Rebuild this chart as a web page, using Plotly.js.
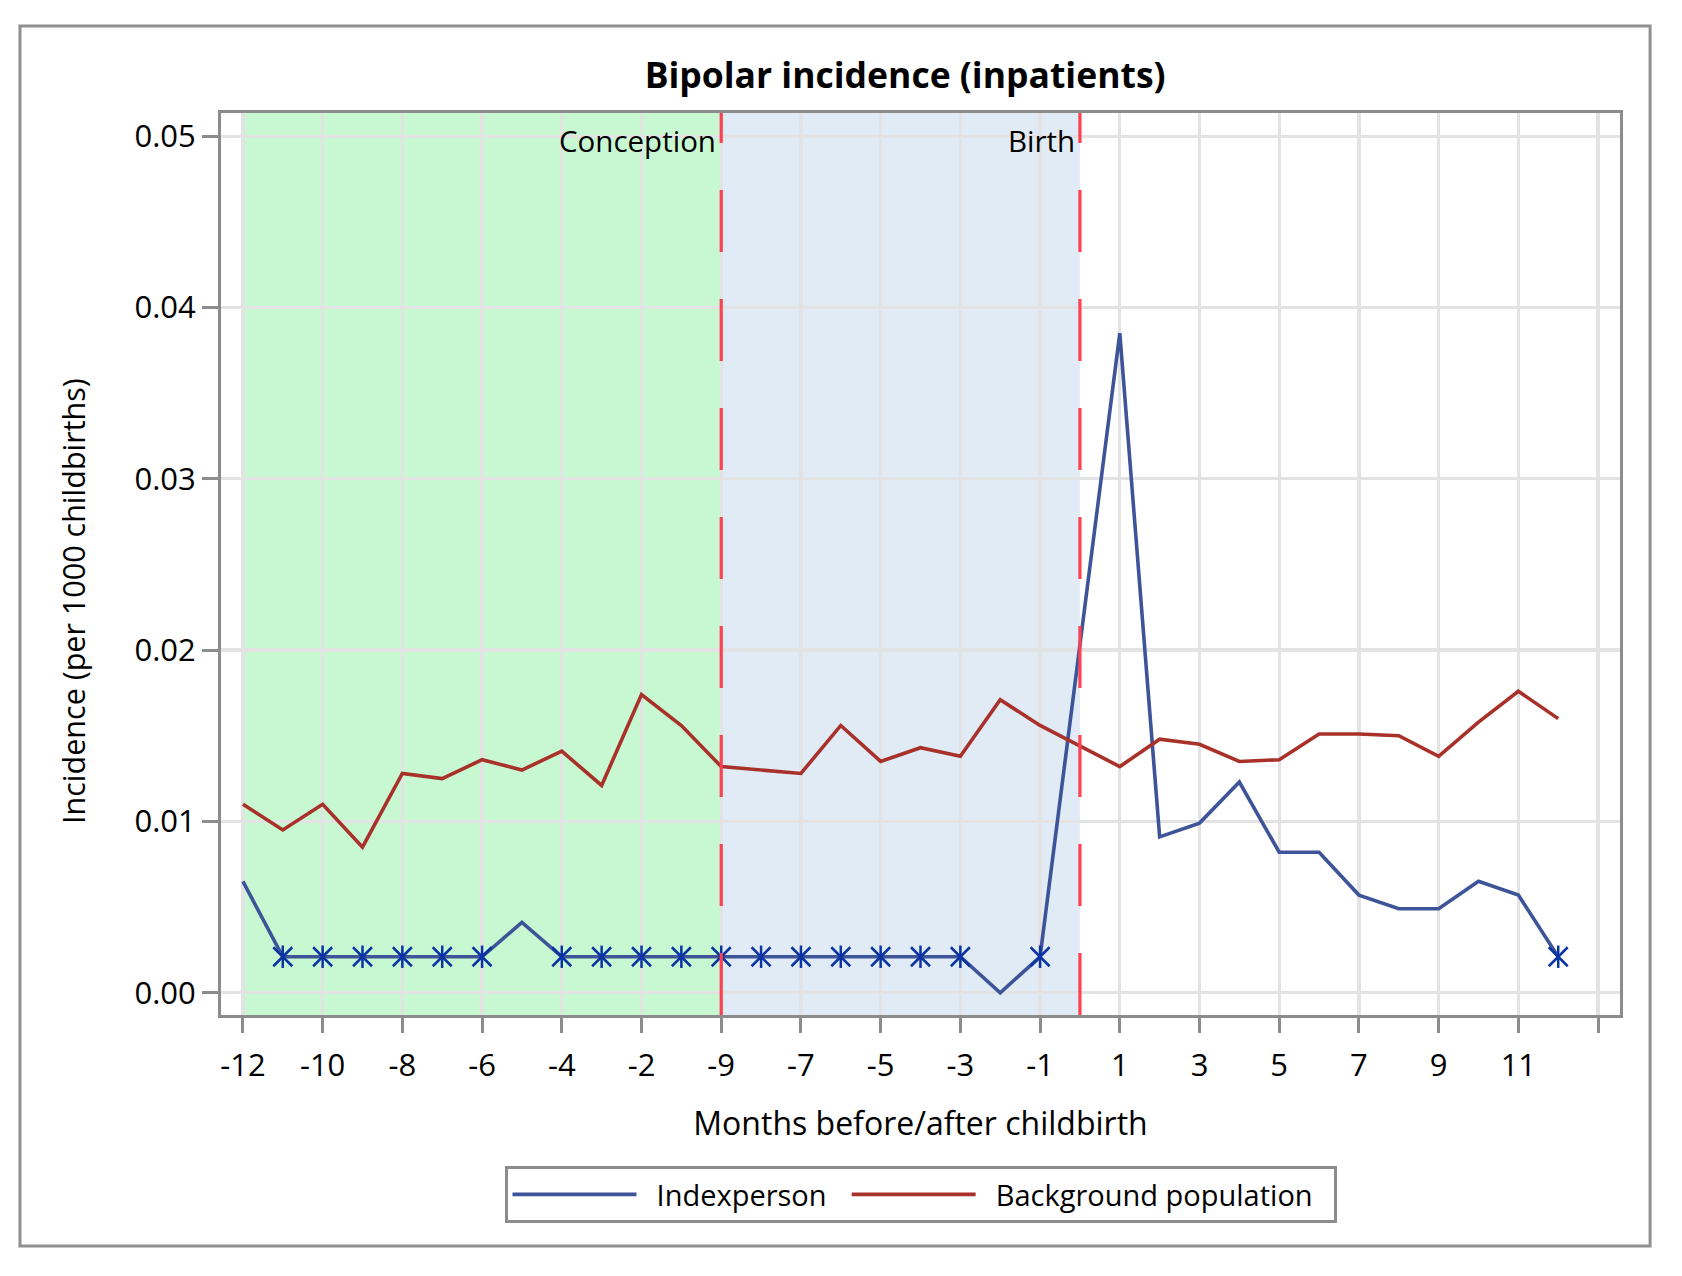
<!DOCTYPE html>
<html>
<head>
<meta charset="utf-8">
<script src="https://cdn.plot.ly/plotly-3.0.1.min.js"></script>
<style>
  html, body { margin: 0; padding: 0; background: #fff; }
  #chart { width: 1682px; height: 1276px; }
</style>
</head>
<body>
<div id="chart"></div>
<script>
// months on the axis: 12 before pregnancy, 9 of pregnancy, birth, 12 after
const preMonths  = [-12, -11, -10, -9, -8, -7, -6, -5, -4, -3, -2, -1];
const pregMonths = [-9, -8, -7, -6, -5, -4, -3, -2, -1];
const postMonths = [1, 2, 3, 4, 5, 6, 7, 8, 9, 10, 11, 12];

// incidence per month (null = birth slot, no value)
const indexPre   = [0.0065, 0.0021, 0.0021, 0.0021, 0.0021, 0.0021, 0.0021, 0.0041, 0.0021, 0.0021, 0.0021, 0.0021];
const indexPreg  = [0.0021, 0.0021, 0.0021, 0.0021, 0.0021, 0.0021, 0.0021, 0.0000, 0.0021];
const indexPost  = [0.0385, 0.0091, 0.0099, 0.0123, 0.0082, 0.0082, 0.0057, 0.0049, 0.0049, 0.0065, 0.0057, 0.0021];

const bgPre  = [0.0110, 0.0095, 0.0110, 0.0085, 0.0128, 0.0125, 0.0136, 0.0130, 0.0141, 0.0121, 0.0174, 0.0156];
const bgPreg = [0.0132, 0.0130, 0.0128, 0.0156, 0.0135, 0.0143, 0.0138, 0.0171, 0.0156];
const bgPost = [0.0132, 0.0148, 0.0145, 0.0135, 0.0136, 0.0151, 0.0151, 0.0150, 0.0138, 0.0158, 0.0176, 0.0160];

// months with a single case are flagged with a star
const oneCase = 0.0021;

const months = [...preMonths, ...pregMonths, 0, ...postMonths];
const indexperson = [...indexPre, ...indexPreg, null, ...indexPost];
const background  = [...bgPre, ...bgPreg, null, ...bgPost];
const pos = months.map((m, i) => i);

const conception = preMonths.length;
const birth = preMonths.length + pregMonths.length;

// label every second slot, plus one empty tick past the end
const tickvals = [];
const ticktext = [];
for (let i = 0; i <= months.length; i += 2) {
  tickvals.push(i);
  ticktext.push(i < months.length ? String(months[i]) : "");
}

const starX = pos.filter(i => indexperson[i] === oneCase);
const starY = starX.map(i => indexperson[i]);

const FONT = "'Open Sans', 'Noto Sans', sans-serif";
const GREY = "#8a8c8e";
const STAR = "#0a33a3";
const NB = "\u00a0";

const traces = [
  {
    x: pos, y: indexperson,
    name: NB + NB + "Indexperson" + NB + NB,
    mode: "lines",
    connectgaps: true,
    line: { color: "#3e5499", width: 3.6 }
  },
  {
    x: pos, y: background,
    name: NB + NB + "Background population" + NB + NB,
    mode: "lines",
    connectgaps: true,
    line: { color: "#a8322a", width: 3.6 }
  },
  // star = vertical bar plus thin x
  {
    x: starX, y: starY,
    mode: "markers",
    showlegend: false,
    hoverinfo: "skip",
    marker: { symbol: "line-ns-open", size: 16, color: STAR, line: { color: STAR, width: 2.5 } }
  },
  {
    x: starX, y: starY,
    mode: "markers",
    showlegend: false,
    hoverinfo: "skip",
    marker: { symbol: "x-thin-open", size: 19, color: STAR, line: { color: STAR, width: 2.5 } }
  }
];

function vline(x) {
  return {
    type: "line", xref: "x", yref: "paper",
    x0: x, x1: x, y0: 0, y1: 1,
    line: { color: "#ff4052", width: 3.2, dash: "62px,47px" },
    layer: "above"
  };
}

const layout = {
  width: 1682, height: 1276,
  margin: { l: 221, r: 62, t: 113, b: 261 },
  paper_bgcolor: "#ffffff",
  plot_bgcolor: "#ffffff",
  font: { family: FONT, color: "#000" },
  title: {
    text: "<b>Bipolar incidence (inpatients)</b>",
    font: { size: 35.5, family: FONT, color: "#000" },
    x: 0.489, xref: "paper", xanchor: "center",
    y: 1 - 76 / 1276, yanchor: "middle"
  },
  xaxis: {
    range: [-0.55, 34.55],
    tickvals: tickvals, ticktext: ticktext,
    showgrid: true, gridcolor: "#e3e3e3", gridwidth: 3.2,
    showline: true, linecolor: GREY, linewidth: 3, mirror: true,
    ticks: "outside", ticklen: 15, tickwidth: 3, tickcolor: GREY,
    tickfont: { size: 31, family: FONT },
    ticklabelstandoff: 6,
    zeroline: false,
    title: { text: "Months before/after childbirth", font: { size: 32, family: FONT }, standoff: 29 }
  },
  yaxis: {
    range: [-0.0013, 0.05135],
    tickvals: [0, 0.01, 0.02, 0.03, 0.04, 0.05],
    tickformat: ".2f",
    showgrid: true, gridcolor: "#e3e3e3", gridwidth: 3.2,
    showline: true, linecolor: GREY, linewidth: 3, mirror: true,
    ticks: "outside", ticklen: 16, tickwidth: 3, tickcolor: GREY,
    tickfont: { size: 31, family: FONT },
    zeroline: false
  },
  showlegend: true,
  legend: {
    orientation: "h",
    x: 0.5, xanchor: "center", xref: "paper",
    y: -0.199, yanchor: "middle", yref: "paper",
    bgcolor: "#fff", bordercolor: GREY, borderwidth: 3,
    font: { size: 29, family: FONT },
    itemwidth: 124
  },
  shapes: [
    {
      type: "rect", xref: "x", yref: "paper",
      x0: 0, x1: conception, y0: 0, y1: 1,
      fillcolor: "rgb(166,244,180)", opacity: 0.62, line: { width: 0 }, layer: "between"
    },
    {
      type: "rect", xref: "x", yref: "paper",
      x0: conception, x1: birth, y0: 0, y1: 1,
      fillcolor: "rgb(206,223,240)", opacity: 0.62, line: { width: 0 }, layer: "between"
    },
    vline(conception),
    vline(birth),
    {
      type: "rect", xref: "paper", yref: "paper",
      x0: -0.1437, x1: 1.0215, y0: -0.2561, y1: 1.0965,
      line: { color: "#909090", width: 3 }, fillcolor: "rgba(0,0,0,0)", layer: "above"
    }
  ],
  annotations: [
    {
      text: "Conception", x: conception, xref: "x", xanchor: "right", xshift: -3,
      y: 1, yref: "paper", yanchor: "top", yshift: -5,
      showarrow: false, font: { size: 29.5, family: FONT }
    },
    {
      text: "Birth", x: birth, xref: "x", xanchor: "right", xshift: -3,
      y: 1, yref: "paper", yanchor: "top", yshift: -5,
      showarrow: false, font: { size: 29.5, family: FONT }
    },
    {
      text: "Incidence (per 1000 childbirths)", textangle: -90,
      x: (73 - 221) / 1399, xref: "paper", xanchor: "center",
      y: 0.459, yref: "paper", yanchor: "middle",
      showarrow: false, font: { size: 30.5, family: FONT }
    }
  ]
};

Plotly.newPlot("chart", traces, layout, { displayModeBar: false, staticPlot: true });
</script>
</body>
</html>
